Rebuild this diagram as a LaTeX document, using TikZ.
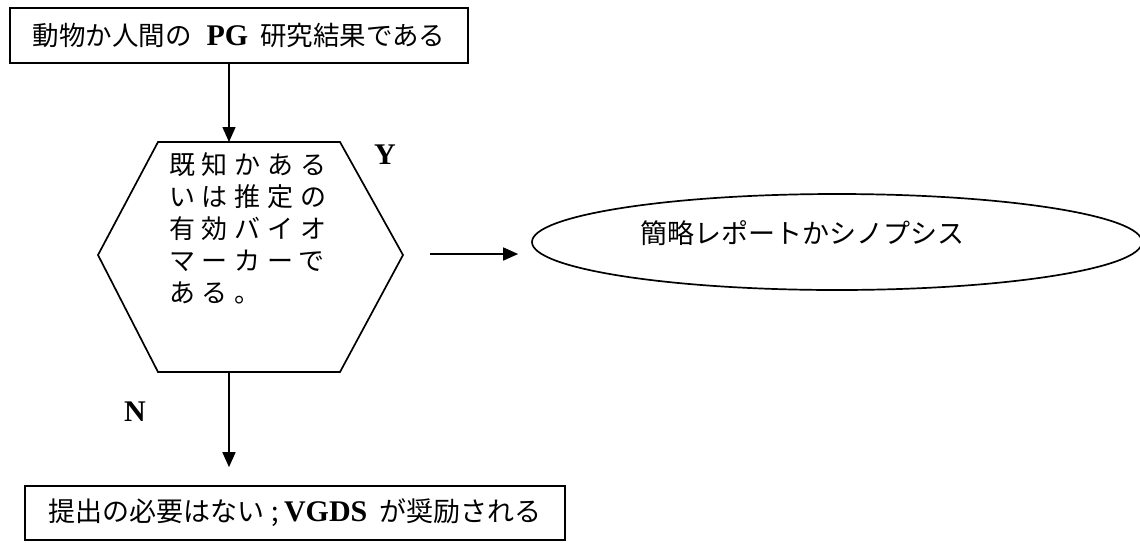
\documentclass[tikz,border=0pt]{standalone}
\usepackage{fontspec}
\setmainfont{Noto Sans CJK JP}
\newfontfamily\latfont{Liberation Serif}
\newfontfamily\cjkspaced[LetterSpace=26]{Noto Sans CJK JP}
\newcommand{\lat}[1]{{\latfont\bfseries\fontsize{30}{30}\selectfont #1}}
\usetikzlibrary{shapes.geometric,arrows.meta}
\begin{document}
\begin{tikzpicture}[x=1pt,y=-1pt,
  every node/.style={inner sep=0pt},
  boxnode/.style={draw,line width=1.7pt,rectangle},
  conn/.style={line width=1.6pt,-{Triangle[length=15pt,width=13pt]}},
  lbl/.style={font=\latfont\bfseries\fontsize{30}{30}\selectfont}]
\useasboundingbox (0,0) rectangle (1140,542);
% top box
\node[boxnode,font=\fontsize{26.5}{30}\selectfont,minimum width=458pt,minimum height=55pt] (top) at (239,35.5)
  {動物か人間の\hspace{15pt}\lat{PG}\hspace{12pt}研究結果である};
% hexagon
\coordinate (hexT) at (229,142);
\coordinate (hexB) at (229,372);
\coordinate (hexR) at (403,255);
\coordinate (hexL) at (98,255);
\draw[line width=1.7pt,line join=miter] (158,142) -- (340,142) -- (hexR) -- (340,372) -- (158,372) -- (hexL) -- cycle;
\node[anchor=north west,align=left,font=\cjkspaced\fontsize{26}{32}\selectfont] (hexText) at (169,152)
  {既知かある\\いは推定の\\有効バイオ\\マーカーで\\ある。};
% ellipse
\node[draw,ellipse,line width=1.7pt,minimum width=610pt,minimum height=96pt] (ell) at (837,242) {};
\node[font=\fontsize{27}{30}\selectfont] (ellText) at (802,233) {簡略レポートかシノプシス};
% bottom box
\node[boxnode,font=\fontsize{27}{30}\selectfont,minimum width=540pt,minimum height=54pt] (bot) at (295,513)
  {提出の必要はない\hspace{7pt};\hspace{5pt}\lat{VGDS}\hspace{12pt}が奨励される};
% labels
\node[lbl] (Y) at (385,155) {Y};
\node[lbl] (N) at (135,412) {N};
% connectors
\draw[conn] (top.south -| hexT) -- (hexT);
\coordinate (yStart) at (430,254);
\draw[conn,shorten >=13pt] (yStart) -- (ell.west |- yStart);
\draw[conn,shorten >=18pt] (hexB) -- (bot.north -| hexB);
\end{tikzpicture}
\end{document}
